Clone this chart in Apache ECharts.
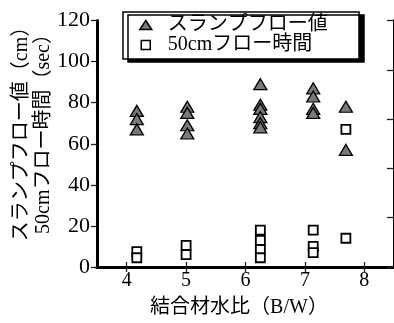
<!DOCTYPE html>
<html><head><meta charset="utf-8">
<script src="https://cdn.jsdelivr.net/npm/echarts@6/dist/echarts.min.js"></script>
<style>html,body{margin:0;padding:0;background:#fff}#c{width:394px;height:323px}</style>
</head><body><div id="c"></div>
<script>
const xTicks = [4, 5, 6, 7, 8];
const slumpName = 'スランプフロー値';
const timeName = '50cmフロー時間';
const slumpX = [4.17, 4.17, 4.17, 5.02, 5.02, 5.02, 5.02, 6.25, 6.25, 6.25, 6.25, 6.25, 6.25, 7.14, 7.14, 7.14, 7.14, 7.69, 7.69];
const slumpY = [76, 72, 67, 78, 75, 69, 65, 89, 79, 77, 73, 70, 68, 87, 83, 77, 75, 78, 57];
const timeX = [4.17, 4.17, 5.0, 5.0, 6.25, 6.25, 6.25, 6.25, 7.14, 7.14, 7.14, 7.69, 7.69];
const timeY = [7.5, 4.5, 10.5, 6, 18, 13, 8.5, 4.5, 18, 10, 7, 67, 14];
const xTitle = '結合材水比（B/W）';
const yTitle = 'スランプフロー値（cm）\n50cmフロー時間（sec）';

const FONT = "'Liberation Serif', 'Noto Sans CJK JP', serif";
const zip = (xs, ys) => xs.map((x, i) => [x, ys[i]]);

const chart = echarts.init(document.getElementById('c'), null, {renderer: 'canvas'});
const axisLine = {show: true, lineStyle: {color: '#000', width: 3}};
chart.setOption({
  animation: false,
  backgroundColor: '#fff',
  grid: {left: 97, top: 20.5, width: 301, height: 246.5},
  xAxis: [{
    type: 'value', min: 3.5, max: 8.5, position: 'bottom',
    axisLine: axisLine,
    axisTick: {show: true, inside: true, length: 5, customValues: xTicks, lineStyle: {color: '#222', width: 1.3}},
    axisLabel: {show: true, customValues: xTicks, fontSize: 20, fontFamily: FONT, color: '#000', margin: 4},
    splitLine: {show: false}
  }, {
    type: 'value', min: 3.5, max: 8.5, position: 'top',
    axisLine: axisLine,
    axisTick: {show: true, inside: true, length: 5, customValues: xTicks, lineStyle: {color: '#222', width: 1.3}},
    axisLabel: {show: false},
    splitLine: {show: false}
  }],
  yAxis: [{
    type: 'value', min: 0, max: 120, interval: 20, position: 'left',
    axisLine: axisLine,
    axisTick: {show: true, inside: false, length: 6, lineStyle: {color: '#222', width: 1.3}},
    axisLabel: {fontSize: 22, fontFamily: FONT, color: '#000', margin: 7},
    splitLine: {show: false}
  }, {
    type: 'value', min: 0, max: 5, interval: 1, position: 'right',
    axisLine: axisLine,
    axisTick: {show: true, inside: true, length: 7, lineStyle: {color: '#222', width: 1.3}},
    axisLabel: {show: false},
    splitLine: {show: false}
  }],
  legend: {
    orient: 'vertical', left: 123, top: 12, padding: [3, 0, 3, 16], itemGap: 0,
    itemWidth: 12, itemHeight: 9,
    selectedMode: false,
    textStyle: {fontSize: 20, lineHeight: 20, color: '#000', fontFamily: FONT, padding: [0, 0, 0, 11]},
    itemStyle: {borderWidth: 1.5},
    data: [{name: slumpName, icon: 'triangle'}, {name: timeName, icon: 'path://M0,0H10V10H0Z'}]
  },
  graphic: [{
    type: 'rect', z: 3,
    shape: {x: 123, y: 12, width: 236, height: 47},
    style: {fill: '#fff', stroke: '#000', lineWidth: 1.5, shadowColor: '#000', shadowBlur: 0, shadowOffsetX: 5, shadowOffsetY: 3}
  }, {
    type: 'text', x: 239, y: 308,
    style: {text: xTitle, font: "20px " + FONT, fill: '#000', align: 'center', verticalAlign: 'middle'}
  }, {
    type: 'text', x: 33, y: 129, rotation: Math.PI / 2,
    style: {text: yTitle, font: "20px " + FONT, fill: '#000', align: 'center', verticalAlign: 'middle', lineHeight: 22}
  }],
  series: [{
    name: slumpName, type: 'scatter', xAxisIndex: 0, yAxisIndex: 0,
    symbol: 'triangle', symbolSize: [13, 11],
    itemStyle: {color: '#7a7a7a', borderColor: '#000', borderWidth: 1.3, opacity: 1},
    data: zip(slumpX, slumpY)
  }, {
    name: timeName, type: 'scatter', xAxisIndex: 0, yAxisIndex: 0,
    symbol: 'rect', symbolSize: 9,
    itemStyle: {color: '#fff', borderColor: '#000', borderWidth: 1.8, opacity: 1},
    data: zip(timeX, timeY)
  }]
});
</script></body></html>
